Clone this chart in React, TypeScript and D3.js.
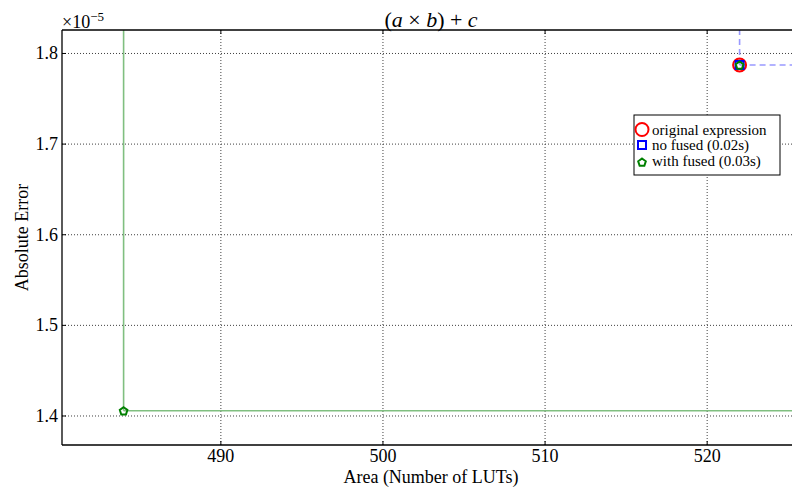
import React from "react";
import * as d3 from "d3";

const xTicks = [490, 500, 510, 520];
const yTicks = [1.4, 1.5, 1.6, 1.7, 1.8];
const original = [{ x: 522, y: 1.7873 }];
const noFused = [{ x: 522, y: 1.7873 }];
const withFused = [
  { x: 484, y: 1.4058 },
  { x: 522, y: 1.7873 },
];
const legendItems = ["original expression", "no fused (0.02s)", "with fused (0.03s)"];

const W = 792, H = 489;
const L = 62, T = 30, R = 802, B = 445;
const FONT = "'Liberation Serif', 'DejaVu Serif', serif";

function pentagon(cx: number, cy: number, r: number) {
  const pts: string[] = [];
  for (let i = 0; i < 5; i++) {
    const a = -Math.PI / 2 + (i * 2 * Math.PI) / 5;
    pts.push(`${cx + r * Math.cos(a)},${cy + r * Math.sin(a)}`);
  }
  return pts.join(" ");
}

export default function App() {
  const x = d3.scaleLinear().domain([480.2, 525.85]).range([L, R]);
  const y = d3.scaleLinear().domain([1.368, 1.8259]).range([B, T]);

  const first = withFused[0];
  const top = original[0];
  const green = "#80bf80";
  const blue = "#9999ff";

  return (
    <div style={{ position: "absolute", left: 0, top: 0 }}>
      <svg width={W} height={H} style={{ display: "block", background: "#fff", fontFamily: FONT }}>
        <defs>
          <clipPath id="plot">
            <rect x={L} y={T} width={R - L} height={B - T} />
          </clipPath>
        </defs>
        {/* grid */}
        <g stroke="#000" strokeWidth={1} strokeDasharray="1,2" opacity={0.75}>
          {xTicks.map((t) => (
            <line key={"gx" + t} x1={x(t)} x2={x(t)} y1={T} y2={B} />
          ))}
          {yTicks.map((t) => (
            <line key={"gy" + t} x1={L} x2={R} y1={y(t)} y2={y(t)} />
          ))}
        </g>
        <g clipPath="url(#plot)">
          {/* green step lines */}
          <line x1={x(first.x)} x2={x(first.x)} y1={y(first.y)} y2={T} stroke={green} strokeWidth={1.6} />
          <line x1={x(first.x)} x2={R} y1={y(first.y)} y2={y(first.y)} stroke={green} strokeWidth={1.6} />
          {/* blue dashed lines */}
          <line x1={x(top.x)} x2={x(top.x)} y1={y(top.y)} y2={T} stroke={blue} strokeWidth={1.6} strokeDasharray="6,4" />
          <line x1={x(top.x)} x2={R} y1={y(top.y)} y2={y(top.y)} stroke={blue} strokeWidth={1.6} strokeDasharray="6,4" />
          {original.map((d, i) => (
            <circle key={"o" + i} cx={x(d.x)} cy={y(d.y)} r={6.5} fill="none" stroke="#ff0000" strokeWidth={2} />
          ))}
          {noFused.map((d, i) => (
            <rect key={"n" + i} x={x(d.x) - 4} y={y(d.y) - 4} width={8} height={8} fill="none" stroke="#0000ff" strokeWidth={2} />
          ))}
          {withFused.map((d, i) => (
            <polygon key={"w" + i} points={pentagon(x(d.x), y(d.y) + 0.5, 4)} fill="none" stroke="#008000" strokeWidth={2} />
          ))}
        </g>
        {/* axes spines */}
        <g stroke="#000" strokeWidth={1.3} fill="none">
          <line x1={L} x2={L} y1={T} y2={B} />
          <line x1={L} x2={R} y1={T} y2={T} />
          <line x1={L} x2={R} y1={B} y2={B} />
        </g>
        {/* ticks */}
        <g stroke="#000" strokeWidth={1}>
          {xTicks.map((t) => (
            <g key={"tx" + t}>
              <line x1={x(t)} x2={x(t)} y1={B} y2={B - 4} />
              <line x1={x(t)} x2={x(t)} y1={T} y2={T + 4} />
            </g>
          ))}
          {yTicks.map((t) => (
            <line key={"ty" + t} x1={L} x2={L + 4} y1={y(t)} y2={y(t)} />
          ))}
        </g>
        <g fontSize={18} fill="#000">
          {xTicks.map((t) => (
            <text key={"lx" + t} x={x(t)} y={462} textAnchor="middle">{t}</text>
          ))}
          {yTicks.map((t) => (
            <text key={"ly" + t} x={L - 4} y={y(t) + 6} textAnchor="end">{t.toFixed(1)}</text>
          ))}
        </g>
        {/* offset label */}
        <text x={L} y={28} fontSize={18} fill="#000">
          ×10<tspan dy={-7} fontSize={13}>−5</tspan>
        </text>
        {/* title */}
        <text x={431} y={27} fontSize={22} textAnchor="middle" fill="#000">
          (<tspan fontStyle="italic">a</tspan> × <tspan fontStyle="italic">b</tspan>) + <tspan fontStyle="italic">c</tspan>
        </text>
        {/* axis labels */}
        <text x={431} y={483} fontSize={18} textAnchor="middle" fill="#000">Area (Number of LUTs)</text>
        <text transform={`translate(28, ${(T + B) / 2}) rotate(-90)`} fontSize={18} textAnchor="middle" fill="#000">Absolute Error</text>
        {/* legend */}
        <g>
          <rect x={634} y={115} width={146} height={60} fill="#fff" stroke="#000" strokeWidth={1} />
          <circle cx={642} cy={129.5} r={6.5} fill="none" stroke="#ff0000" strokeWidth={2} />
          <rect x={638} y={141} width={8} height={8} fill="none" stroke="#0000ff" strokeWidth={2} />
          <polygon points={pentagon(642, 162.5, 4)} fill="none" stroke="#008000" strokeWidth={2} />
          {legendItems.map((s, i) => (
            <text key={s} x={652} y={134.5 + i * 15.5} fontSize={15} fill="#000">{s}</text>
          ))}
        </g>
      </svg>
    </div>
  );
}
